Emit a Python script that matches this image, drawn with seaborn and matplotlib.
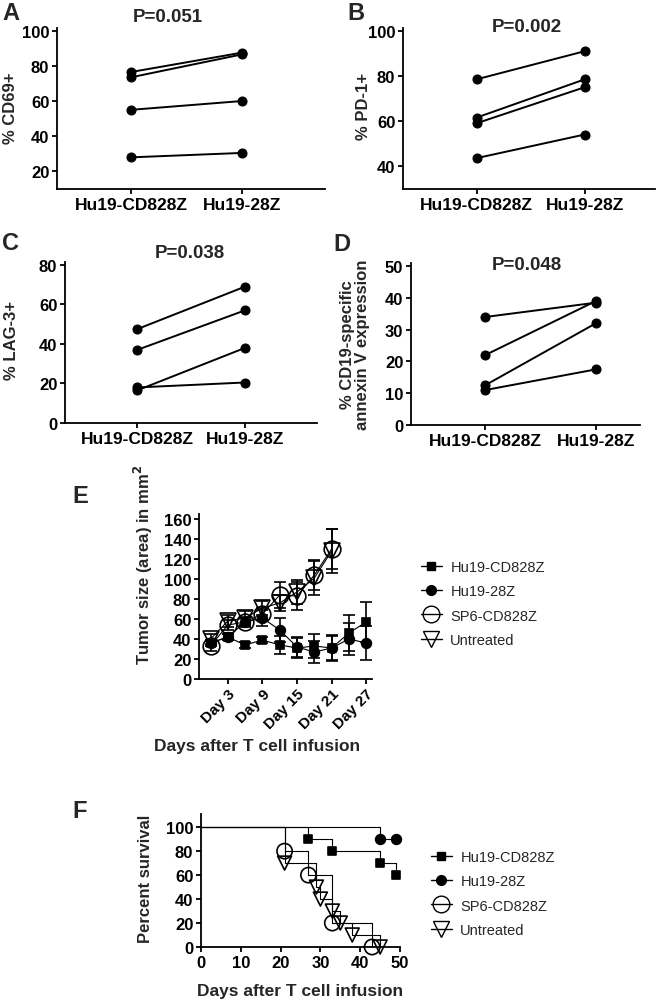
import matplotlib
matplotlib.use('Agg')
from matplotlib import pyplot as plt
from matplotlib.lines import Line2D
import numpy as np
import pandas as pd
import seaborn as sns

sns.set_style('ticks')
plt.rcParams['font.family'] = ['Liberation Sans', 'DejaVu Sans']
plt.rcParams['font.weight'] = 'bold'
plt.rcParams['axes.labelweight'] = 'bold'
plt.rcParams['axes.linewidth'] = 1.3
plt.rcParams['xtick.major.width'] = 1.3
plt.rcParams['ytick.major.width'] = 1.3
plt.rcParams['xtick.major.size'] = 3.5
plt.rcParams['ytick.major.size'] = 3.5
plt.rcParams['xtick.color'] = 'black'
plt.rcParams['ytick.color'] = 'black'
plt.rcParams['axes.edgecolor'] = 'black'

# paired panels A-D
groups = ['Hu19-CD828Z', 'Hu19-28Z']
cd69_cd828 = [76.5, 73.5, 55, 28]
cd69_28z = [87.5, 86.5, 60, 30.5]
pd1_cd828 = [78.5, 61.5, 59, 43.5]
pd1_28z = [91, 78.5, 75, 54]
lag3_cd828 = [47.5, 37, 16.5, 18]
lag3_28z = [69, 57, 38, 20.5]
annexin_cd828 = [34, 22, 12.5, 11]
annexin_28z = [38.5, 39, 32, 17.5]

# panel E: tumor size, mean and SEM
days = [0, 3, 6, 9, 12, 15, 18, 21, 24, 27]
day_ticks = [3, 9, 15, 21, 27]
day_labels = ['Day 3', 'Day 9', 'Day 15', 'Day 21', 'Day 27']
size_cd828 = [36, 42, 34, 39, 34, 31, 33, 31, 46, 57]
sem_cd828 = [3, 3, 3, 3, 9, 10, 12, 12, 18, 20]
size_28z = [36, 42, 57, 61, 49, 32, 27, 31, 40, 36]
sem_28z = [3, 3, 4, 8, 12, 10, 11, 13, 16, 17]
size_sp6 = [33, 54, 57, 65, 84, 83, 104, 130]
sem_sp6 = [5, 5, 5, 6, 13, 14, 15, 20]
size_untr = [40, 58, 61, 71, 76, 87, 101, 128]
sem_untr = [5, 6, 7, 7, 8, 12, 17, 22]

# panel F: survival steps
surv_cd828_days = [0, 27, 33, 45, 49]
surv_cd828 = [100, 90, 80, 70, 60]
surv_28z_days = [0, 45, 49]
surv_28z = [100, 90, 90]
surv_sp6_days = [0, 21, 27, 33, 43]
surv_sp6 = [100, 80, 60, 20, 0]
surv_untr_days = [0, 21, 29, 30, 33, 35, 38, 45]
surv_untr = [100, 70, 50, 40, 30, 20, 10, 0]

legend_names = ['Hu19-CD828Z', 'Hu19-28Z', 'SP6-CD828Z', 'Untreated']

W, H = 660, 1003
fig = plt.figure(figsize=(W / 100, H / 100), dpi=100)


def box(l, t, r, b):
    return [l / W, 1 - b / H, (r - l) / W, (b - t) / H]


def ftext(x, y, s, **kw):
    fig.text(x / W, 1 - y / H, s, **kw)


def paired(rect, before, after, ylim, yticks, xlim):
    ax = fig.add_axes(box(*rect))
    n = len(before)
    df = pd.DataFrame({
        'pair': list(range(n)) * 2,
        'x': [0] * n + [1] * n,
        'value': list(before) + list(after),
    })
    sns.lineplot(data=df, x='x', y='value', units='pair', estimator=None,
                 color='black', marker='o', markersize=6.5, linewidth=1.4,
                 markeredgecolor='black', ax=ax, clip_on=False)
    ax.set_xlim(*xlim)
    ax.set_ylim(*ylim)
    ax.set_yticks(yticks)
    ax.set_xticks([0, 1], groups)
    ax.set_xlabel('')
    ax.set_ylabel('')
    ax.tick_params(axis='y', labelsize=12, pad=2)
    ax.tick_params(axis='x', labelsize=12.5, pad=2)
    sns.despine(ax=ax)
    return ax


paired((57, 29, 325, 190), cd69_cd828, cd69_28z, (10, 101.5), [20, 40, 60, 80, 100], (-0.67, 1.75))
paired((403, 29, 655, 190), pd1_cd828, pd1_28z, (29.8, 101.3), [40, 60, 80, 100], (-0.68, 1.65))
paired((65, 263, 317, 424), lag3_cd828, lag3_28z, (0, 81.5), [0, 20, 40, 60, 80], (-0.67, 1.67))
paired((411, 264, 640, 426), annexin_cd828, annexin_28z, (0, 51), [0, 10, 20, 30, 40, 50], (-0.67, 1.4))

title_kw = dict(fontsize=13.5, fontweight='bold', ha='center', va='center')
ftext(168, 17, 'P=0.051', **title_kw)
ftext(527, 27, 'P=0.002', **title_kw)
ftext(190, 253, 'P=0.038', **title_kw)
ftext(527, 265, 'P=0.048', **title_kw)

letter_kw = dict(fontsize=17, fontweight='bold', ha='left', va='center')
ftext(2, 14, 'A', **letter_kw)
ftext(347, 14, 'B', **letter_kw)
ftext(2, 243, 'C', **letter_kw)
ftext(333, 245, 'D', **letter_kw)
ftext(72, 497, 'E', **letter_kw)
ftext(72, 812, 'F', **letter_kw)

ylab_kw = dict(fontsize=12, fontweight='bold', ha='center', va='center', rotation=90)
ftext(11, 108, '% CD69+', **ylab_kw)
ftext(363, 106, '% PD-1+', **ylab_kw)
ftext(12, 340, '% LAG-3+', **ylab_kw)
ftext(355, 345, '% CD19-specific\nannexin V expression', linespacing=1.0, **ylab_kw)

# panel E
axE = fig.add_axes(box(199, 515, 372, 680))
e_series = [
    (days, size_cd828, sem_cd828, dict(marker='s', markersize=6, markerfacecolor='black')),
    (days, size_28z, sem_28z, dict(marker='o', markersize=7, markerfacecolor='black')),
    (days[:8], size_sp6, sem_sp6, dict(marker='o', markersize=12, markerfacecolor='none')),
    (days[:8], size_untr, sem_untr, dict(marker='v', markersize=11, markerfacecolor='none')),
]
for x, y, err, mk in e_series:
    axE.errorbar(x, y, yerr=err, fmt='none', ecolor='black', elinewidth=1.2,
                 capsize=4, capthick=1.2, clip_on=False)
    sns.lineplot(x=x, y=y, color='black', linewidth=0.8, markeredgecolor='black',
                 markeredgewidth=1.2, ax=axE, clip_on=False, **mk)
axE.set_xlim(-2, 28)
axE.set_ylim(0, 165)
axE.set_yticks(range(0, 161, 20))
axE.set_xticks(day_ticks)
axE.set_xticklabels(day_labels, rotation=45, ha='right', rotation_mode='anchor')
axE.tick_params(axis='y', labelsize=12, pad=2)
axE.tick_params(axis='x', labelsize=11, pad=2)
sns.despine(ax=axE)
ftext(143, 565, 'Tumor size (area) in mm$^{2}$', **ylab_kw)
ftext(257, 746, 'Days after T cell infusion', fontsize=12.5, fontweight='bold', ha='center', va='center')

# panel F
axF = fig.add_axes(box(201, 815, 400, 948))
f_series = [
    (surv_cd828_days, surv_cd828, dict(marker='s', markersize=6, markerfacecolor='black')),
    (surv_28z_days, surv_28z, dict(marker='o', markersize=7, markerfacecolor='black')),
    (surv_sp6_days, surv_sp6, dict(marker='o', markersize=11, markerfacecolor='none')),
    (surv_untr_days, surv_untr, dict(marker='v', markersize=10, markerfacecolor='none')),
]
for x, y, mk in f_series:
    sns.lineplot(x=x, y=y, color='black', linewidth=0.8, drawstyle='steps-post',
                 ax=axF, clip_on=False)
    sns.scatterplot(x=x[1:], y=y[1:], color='black', edgecolor='black',
                    linewidth=1.2, s=mk['markersize'] ** 2, marker=mk['marker'],
                    facecolor=mk['markerfacecolor'], ax=axF, clip_on=False, zorder=3)
axF.set_xlim(0, 50)
axF.set_ylim(0, 111)
axF.set_xticks(range(0, 51, 10))
axF.set_yticks(range(0, 101, 20))
axF.tick_params(labelsize=12, pad=2)
sns.despine(ax=axF)
ftext(146, 879, 'Percent survival', **ylab_kw)
ftext(300, 992, 'Days after T cell infusion', fontsize=12.5, fontweight='bold', ha='center', va='center')

# legends
handles = [
    Line2D([], [], color='black', linewidth=1, marker='s', markersize=6),
    Line2D([], [], color='black', linewidth=1, marker='o', markersize=7),
    Line2D([], [], color='black', linewidth=1, marker='o', markersize=12, markerfacecolor='none'),
    Line2D([], [], color='black', linewidth=1, marker='v', markersize=11, markerfacecolor='none'),
]
for x0, y0 in [(408, 548), (418, 838)]:
    fig.legend(handles, legend_names, loc='upper left', bbox_to_anchor=(x0 / W, 1 - y0 / H),
               frameon=False, handlelength=1.4, handletextpad=0.6, labelspacing=0.7,
               prop=dict(family='Liberation Sans', weight='normal', size=10.5))

fig.savefig('out.png', dpi=100)
